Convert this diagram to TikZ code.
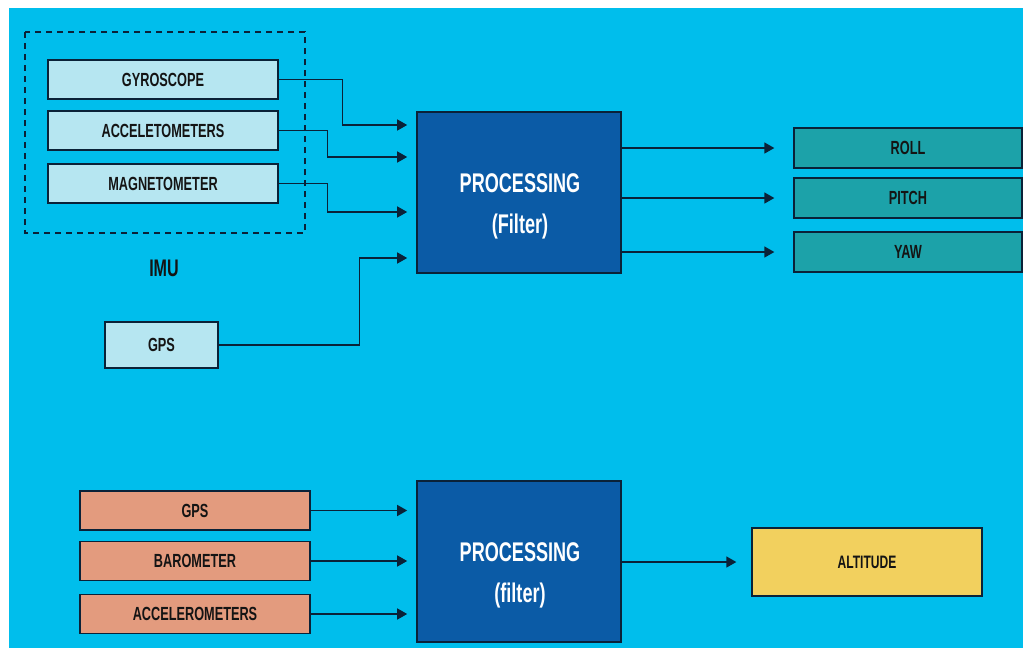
\documentclass[tikz,border=0pt]{standalone}
\usepackage{fontspec}
\newfontfamily\blockfont{Liberation Sans}[FakeStretch=0.67]
\usetikzlibrary{arrows.meta}
\definecolor{skyback}{HTML}{00BEEC}
\definecolor{navyline}{HTML}{0A2238}
\definecolor{sensorfill}{HTML}{B6E6F1}
\definecolor{anglefill}{HTML}{1CA2A9}
\definecolor{altfill}{HTML}{E39B7E}
\definecolor{heightfill}{HTML}{F2D05E}
\definecolor{procfill}{HTML}{0B5BA6}
\definecolor{inkdark}{HTML}{141414}

\begin{document}
\begin{tikzpicture}[x=1pt,y=-1pt,
  blk/.style={draw=navyline,line width=1.3pt,inner sep=0pt,text=inkdark,
    font=\blockfont\bfseries\fontsize{19}{21}\selectfont},
  sensor/.style={blk,fill=sensorfill,minimum width=230pt,minimum height=39pt},
  angle/.style={blk,fill=anglefill,minimum width=228pt,minimum height=40pt},
  baro/.style={blk,fill=altfill,minimum width=230pt,minimum height=39pt},
  procbox/.style={draw=navyline,line width=1.6pt,fill=procfill,minimum width=204pt,minimum height=161pt},
  proctext/.style={text=white,align=center,font=\blockfont\bfseries\fontsize{27}{31}\selectfont},
  link/.style={navyline,line width=1.4pt,shorten >=9pt,-{Triangle[length=10pt,width=11pt]}}]
\useasboundingbox (0,0) rectangle (1023,648);
\fill[white] (0,0) rectangle (1023,648);
\fill[skyback] (9,8) rectangle (1023,648);

% IMU group
\draw[navyline,line width=2pt,dash pattern=on 6pt off 5pt] (25,32) rectangle (305,233);
\node[sensor] (gyro) at (163,79.5) {GYROSCOPE};
\node[sensor] (accel) at (163,130.5) {ACCELETOMETERS};
\node[sensor] (magnet) at (163,183.5) {MAGNETOMETER};
\node[text=inkdark,font=\blockfont\bfseries\fontsize{24}{26}\selectfont] (imu) at (164,268) {IMU};
\node[sensor,minimum width=113pt,minimum height=46pt] (gpsa) at (161.5,345) {GPS};

% attitude filter
\node[procbox] (proca) at (519,192.5) {};
\node[proctext] (procatext) at (520,206) {PROCESSING\\[10pt](Filter)};
\node[angle] (roll) at (908,148) {ROLL};
\node[angle] (pitch) at (908,198) {PITCH};
\node[angle] (yaw) at (908,252) {YAW};

\draw[link] (gyro.east) -- ++(64,0) |- (proca.west |- 0,125);
\draw[link] (accel.east) -- ++(49,0) |- (proca.west |- 0,157);
\draw[link] (magnet.east) -- ++(49,0) |- (proca.west |- 0,212);
\draw[link] (gpsa.east) -- ++(141,0) |- (proca.west |- 0,258);
\draw[link,shorten >=19pt] (proca.east |- roll.west) -- (roll.west);
\draw[link,shorten >=19pt] (proca.east |- pitch.west) -- (pitch.west);
\draw[link,shorten >=19pt] (proca.east |- yaw.west) -- (yaw.west);

% altitude filter
\node[baro] (gpsb) at (195,510.5) {GPS};
\node[baro] (barom) at (195,561) {BAROMETER};
\node[baro] (accb) at (195,614) {ACCELEROMETERS};
\node[procbox] (procb) at (519,561.5) {};
\node[proctext] (procbtext) at (520,575) {PROCESSING\\[10pt](filter)};
\node[blk,fill=heightfill,minimum width=230pt,minimum height=68pt,
  font=\blockfont\bfseries\fontsize{18}{20}\selectfont] (alt) at (867,562) {ALTITUDE};

\draw[link] (gpsb.east) -- (procb.west |- gpsb.east);
\draw[link] (barom.east) -- (procb.west |- barom.east);
\draw[link] (accb.east) -- (procb.west |- accb.east);
\draw[link,shorten >=15pt] (procb.east |- alt.west) -- (alt.west);
\end{tikzpicture}
\end{document}
